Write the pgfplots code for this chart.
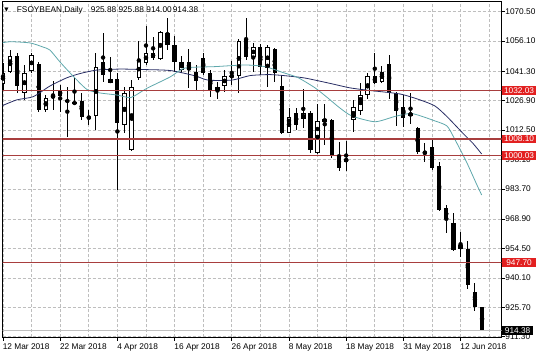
\documentclass[border=0pt]{standalone}
\usepackage{pgfplots}
\pgfplotsset{compat=1.18}
\usepackage{pgfplotstable}
\usepackage{fontspec}
\setmainfont{Liberation Sans}
\newfontfamily\symfont{DejaVu Sans}
\definecolor{gridc}{RGB}{190,190,190}
\definecolor{lvl}{RGB}{168,62,62}
\definecolor{lvlbox}{RGB}{226,32,32}
\definecolor{maslow}{RGB}{40,45,100}
\definecolor{mafast}{RGB}{95,168,172}
\newcommand{\lab}{\fontsize{8.3bp}{9.5bp}\selectfont}

\pgfplotstableread{
i O H L C
0 1035.1 1045.4 1032.2 1040.6
1 1041.1 1051.7 1040.5 1048.8
3 1030.8 1044.4 1027.3 1040.5
4 1041.6 1050.4 1040.5 1049.3
6 1022.3 1029.7 1021.5 1028.2
7 1028.2 1036.7 1022.3 1029.7
13 1019.4 1050.4 1012.5 1043.6
15 1035.7 1048.5 1035.4 1037.5
17 1015.0 1033.8 1011.1 1030.7
18 1002.8 1037.0 1002.5 1033.6
19 1038.0 1056.3 1037.0 1046.8
20 1045.4 1063.5 1044.4 1050.4
22 1047.3 1061.2 1046.8 1060.7
25 1041.9 1048.8 1040.3 1046.0
30 1031.8 1036.2 1027.6 1033.5
31 1034.1 1042.0 1031.3 1039.0
32 1038.7 1046.5 1034.6 1039.2
33 1039.0 1057.0 1030.5 1056.3
35 1048.5 1055.0 1041.1 1053.1
37 1042.8 1054.2 1033.8 1053.1
40 1011.2 1023.3 1010.9 1019.1
42 1017.8 1032.5 1013.3 1020.7
44 1001.1 1025.3 1000.8 1017.2
45 1016.6 1025.5 1005.2 1017.9
48 997.0 1007.4 992.7 998.6
49 1017.5 1027.3 1011.7 1024.0
50 1022.0 1035.4 1019.9 1029.7
51 1029.7 1040.3 1027.6 1039.0
53 1036.2 1043.9 1035.4 1041.1
57 1019.4 1030.5 1015.5 1021.0
}\bull

\pgfplotstableread{
i O H L C
2 1048.8 1050.3 1030.7 1034.1
5 1044.9 1046.0 1021.5 1022.3
8 1032.1 1034.6 1021.5 1029.2
9 1026.9 1033.8 1009.3 1026.6
10 1025.9 1038.0 1024.8 1025.7
11 1026.9 1030.7 1017.4 1019.1
12 1019.1 1022.3 1015.0 1018.1
14 1045.9 1059.9 1036.2 1039.5
16 1037.5 1040.5 983.2 1016.0
21 1050.4 1058.3 1046.8 1047.8
23 1059.9 1067.3 1051.7 1054.2
24 1054.2 1058.6 1041.0 1045.9
26 1046.0 1052.2 1033.1 1041.9
27 1041.1 1044.4 1032.1 1036.7
28 1047.7 1050.1 1039.5 1040.6
29 1040.6 1041.9 1028.9 1032.1
34 1057.0 1067.3 1046.8 1048.5
36 1053.1 1054.7 1039.5 1043.6
38 1052.1 1052.6 1036.2 1040.3
39 1034.1 1039.5 1010.6 1010.9
41 1020.7 1023.3 1012.5 1015.2
43 1020.7 1021.9 1001.5 1002.8
46 1017.5 1017.9 998.8 1000.1
47 1000.3 1006.8 992.6 993.8
52 1039.0 1050.1 1035.1 1035.4
54 1044.9 1049.3 1027.6 1030.5
55 1030.5 1031.3 1014.5 1022.0
56 1023.7 1029.7 1013.9 1018.3
58 1013.4 1013.9 1000.8 1001.9
59 1001.9 1006.0 997.0 1000.8
60 1004.4 1008.5 993.0 993.8
61 994.9 997.0 973.0 973.4
62 974.2 975.8 962.3 968.8
63 966.9 972.0 953.4 953.8
64 956.2 962.7 950.5 954.1
65 954.1 958.3 934.5 936.6
66 933.3 937.5 924.0 926.0
67 925.88 925.88 914.00 914.38
}\bear

\begin{document}
\begin{tikzpicture}
\path[use as bounding box] (0,0) rectangle (536bp,357bp);
\begin{axis}[
  at={(2.7bp,19.7bp)}, anchor=south west,
  scale only axis, width=499bp, height=335.8bp,
  xmin=-0.04, xmax=69.75, ymin=911.01, ymax=1075.5,
  axis line style={black, line width=0.8bp},
  xtick={0,8,...,64},
  xticklabels={12 Mar 2018,22 Mar 2018,4 Apr 2018,16 Apr 2018,26 Apr 2018,8 May 2018,18 May 2018,31 May 2018,12 Jun 2018},
  minor xtick={4,12,...,68},
  ytick={911.3,925.7,940.1,954.5,968.9,983.7,998.1,1012.5,1026.9,1041.3,1056.1,1070.5},
  yticklabels={911.30,925.70,940.10,954.50,968.90,983.70,998.10,1012.50,1026.90,1041.30,1056.10,1070.50},
  xtick pos=bottom, ytick pos=right, yticklabel pos=right,
  tick align=outside,
  major tick length=3.5bp, minor tick length=0pt,
  tick style={black, line width=0.6bp},
  xmajorgrids, xminorgrids, ymajorgrids,
  major grid style={gridc, dash pattern=on 3bp off 2bp, line width=0.6bp},
  minor grid style={gridc, dash pattern=on 3bp off 2bp, line width=0.6bp},
  xticklabel style={anchor=north west, inner sep=0pt, font=\lab, xshift=-0.3bp, yshift=-2.5bp},
  yticklabel style={anchor=west, inner sep=0pt, font=\lab, xshift=0bp},
]
% wicks
\addplot[only marks, mark=none, forget plot, error bars/.cd, y dir=both, y explicit, error mark=none,
  error bar style={black, solid, line width=0.9bp}]
  table[x=i, y expr={(\thisrow{H}+\thisrow{L})/2}, y error expr={(\thisrow{H}-\thisrow{L})/2}] {\bear};
\addplot[only marks, mark=none, forget plot, error bars/.cd, y dir=both, y explicit, error mark=none,
  error bar style={black, solid, line width=0.9bp}]
  table[x=i, y expr={(\thisrow{H}+\thisrow{L})/2}, y error expr={(\thisrow{H}-\thisrow{L})/2}] {\bull};
% black bodies
\addplot[only marks, mark=none, forget plot, error bars/.cd, y dir=both, y explicit, error mark=none,
  error bar style={black, solid, line width=4.2bp}]
  table[x=i, y expr={(\thisrow{O}+\thisrow{C})/2}, y error expr={max(abs(\thisrow{O}-\thisrow{C})/2,0.3)}] {\bear};
% white bodies
\addplot[only marks, mark=none, forget plot, error bars/.cd, y dir=both, y explicit, error mark=none,
  error bar style={black, solid, line width=4.6bp}]
  table[x=i, y expr={(\thisrow{O}+\thisrow{C})/2}, y error expr={max(abs(\thisrow{O}-\thisrow{C})/2,0.3)}] {\bull};
\addplot[only marks, mark=none, forget plot, error bars/.cd, y dir=both, y explicit, error mark=none,
  error bar style={white, solid, line width=2.6bp}]
  table[x=i, y expr={(\thisrow{O}+\thisrow{C})/2}, y error expr={max(abs(\thisrow{O}-\thisrow{C})/2-0.49,0)}] {\bull};
% moving averages
\addplot[maslow, line width=0.8bp, smooth, tension=0.4, mark=none] coordinates {
(-0.42,1024.0) (1.92,1027.3) (4.24,1028.9) (6.57,1034.1) (8.91,1038.1) (10.77,1040.2)
(13.1,1041.9) (16.36,1042.4) (19.16,1042.2) (23.36,1041.7) (26.85,1039.1) (28.67,1037.0)
(32.03,1037.0) (34.55,1039.2) (37.34,1039.7) (39.86,1039.0) (42.24,1038.0) (45.73,1035.4)
(48.53,1033.2) (51.33,1031.9) (55.52,1030.2) (58.32,1027.3) (60.42,1024.3) (62.1,1019.1)
(64.34,1010.9) (65.73,1006.0) (66.95,1000.8)};
\addplot[mafast, line width=0.8bp, smooth, tension=0.4, mark=none] coordinates {
(-0.42,1055.0) (0.98,1055.8) (3.78,1055.2) (5.59,1053.2) (6.57,1051.7) (7.97,1045.9)
(9.79,1039.0) (11.75,1032.4) (13.57,1030.7) (15.94,1029.7) (17.9,1028.5) (20.14,1033.0)
(23.36,1038.5) (25.45,1042.9) (29.65,1043.6) (33.85,1044.4) (36.64,1043.6) (39.16,1040.7)
(41.26,1038.2) (43.64,1033.2) (45.45,1028.2) (47.13,1023.3) (48.81,1019.4) (52.03,1016.6)
(54.83,1019.2) (57.2,1020.6) (60.42,1017.0) (62.1,1014.5) (63.1,1008.6) (64.76,997.4)
(66.29,985.6) (66.95,980.7)};
% horizontal levels
\addplot[lvl, line width=1.2bp, forget plot] coordinates {(-1,1032.03) (71,1032.03)};
\addplot[lvl, line width=1.2bp, forget plot] coordinates {(-1,1008.10) (71,1008.10)};
\addplot[lvl, line width=1.2bp, forget plot] coordinates {(-1,1000.03) (71,1000.03)};
\addplot[lvl, line width=1.2bp, forget plot] coordinates {(-1,947.70) (71,947.70)};
\addplot[black!25, line width=0.7bp, forget plot] coordinates {(-1,914.38) (71,914.38)};
\coordinate (b1) at (axis cs:69.75,1032.03);
\coordinate (b2) at (axis cs:69.75,1008.10);
\coordinate (b3) at (axis cs:69.75,1000.03);
\coordinate (b4) at (axis cs:69.75,947.70);
\coordinate (b5) at (axis cs:69.75,914.38);
\end{axis}
\foreach \c/\t in {b1/1032.03, b2/1008.10, b3/1000.03, b4/947.70}{
  \node[fill=lvlbox, text=white, anchor=west, inner sep=0pt, minimum height=8.8bp, minimum width=34.3bp, font=\lab] at (\c) {\t};
}
\node[fill=black, text=white, anchor=west, inner sep=0pt, minimum height=8.8bp, minimum width=31.5bp, font=\lab] at (b5) {914.38};
% title
\node[anchor=base west, inner sep=0pt, font=\fontsize{5.5bp}{6bp}\symfont] at (4.3bp,345.2bp) {▼};
\node[anchor=base west, inner sep=0pt, font=\lab] at (16.7bp,344.7bp) {FSOYBEAN,Daily};
\node[anchor=base west, inner sep=0pt, font=\lab] at (90.7bp,344.7bp) {925.88};
\node[anchor=base west, inner sep=0pt, font=\lab] at (118.3bp,344.7bp) {925.88};
\node[anchor=base west, inner sep=0pt, font=\lab] at (146.2bp,344.7bp) {914.00};
\node[anchor=base west, inner sep=0pt, font=\lab] at (172.6bp,344.7bp) {914.38};
\end{tikzpicture}
\end{document}
